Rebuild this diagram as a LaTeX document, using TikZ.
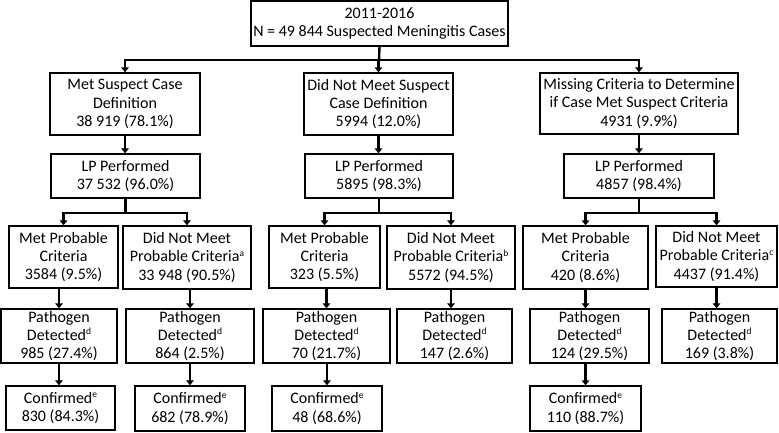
\documentclass[tikz,border=0pt]{standalone}
\usepackage{fontspec}
\setmainfont{Carlito}
\usetikzlibrary{arrows.meta}
\tikzset{
  bx/.style={draw, line width=1.3pt, align=center, inner sep=0pt,
    font=\fontsize{16}{18.3}\selectfont},
  conn/.style={line width=2.4pt, line cap=rect},
  arr/.style={line width=2.4pt, -{Triangle[width=7.5pt,length=5pt]}},
}
\newcommand\fnmk[1]{\raisebox{0.75ex}{\fontsize{9.5}{9.5}\selectfont #1}}
\newcommand\mybox[6]{%
  \node[bx, minimum width={#4pt-#2pt}, minimum height={#5pt-#3pt}]
    (#1) at ({(#2+#4)/2},{-(#3+#5)/2}) {#6};}
\begin{document}
\begin{tikzpicture}[x=1pt,y=1pt]
\useasboundingbox (0,0) rectangle (779,-432);
% level 0
\mybox{top}{251}{1}{508}{46}{2011-2016\\N = 49 844 Suspected Meningitis Cases}
% level 1
\mybox{A}{50}{73}{200}{135}{Met Suspect Case\\Definition\\38 919 (78.1\%)}
\mybox{B}{304}{73}{453}{135}{Did Not Meet Suspect\\Case Definition\\5994 (12.0\%)}
\mybox{C}{540}{73}{738}{134}{Missing Criteria to Determine\\if Case Met Suspect Criteria\\4931 (9.9\%)}
% LP
\mybox{LA}{51}{154}{200}{198}{LP Performed\\37 532 (96.0\%)}
\mybox{LB}{305}{154}{453}{198}{LP Performed\\5895 (98.3\%)}
\mybox{LC}{564}{154}{714}{198}{LP Performed\\4857 (98.4\%)}
% probable
\mybox{A1}{9}{226}{118}{288}{Met Probable\\Criteria\\3584 (9.5\%)}
\mybox{A2}{123}{226}{251}{289}{Did Not Meet\\Probable Criteria\fnmk{a}\\33 948 (90.5\%)}
\mybox{B1}{269}{226}{380}{288}{Met Probable\\Criteria\\323 (5.5\%)}
\mybox{B2}{387}{226}{515}{289}{Did Not Meet\\Probable Criteria\fnmk{b}\\5572 (94.5\%)}
\mybox{C1}{523}{226}{648}{289}{Met Probable\\Criteria\\420 (8.6\%)}
\mybox{C2}{656}{226}{777}{287}{Did Not Meet\\Probable Criteria\fnmk{c}\\4437 (91.4\%)}
% pathogen
\mybox{A1P}{1}{309}{117}{363}{Pathogen\\Detected\fnmk{d}\\985 (27.4\%)}
\mybox{A2P}{126}{309}{254}{363}{Pathogen\\Detected\fnmk{d}\\864 (2.5\%)}
\mybox{B1P}{263}{309}{390}{363}{Pathogen\\Detected\fnmk{d}\\70 (21.7\%)}
\mybox{B2P}{397}{309}{512}{363}{Pathogen\\Detected\fnmk{d}\\147 (2.6\%)}
\mybox{C1P}{530}{309}{649}{363}{Pathogen\\Detected\fnmk{d}\\124 (29.5\%)}
\mybox{C2P}{662}{309}{777}{363}{Pathogen\\Detected\fnmk{d}\\169 (3.8\%)}
% confirmed
\mybox{A1C}{6}{386}{115}{430}{Confirmed\fnmk{e}\\830 (84.3\%)}
\mybox{A2C}{135}{386}{245}{431}{Confirmed\fnmk{e}\\682 (78.9\%)}
\mybox{B1C}{272}{386}{382}{431}{Confirmed\fnmk{e}\\48 (68.6\%)}
\mybox{C1C}{530}{386}{641}{431}{Confirmed\fnmk{e}\\110 (88.7\%)}
% junctions
\coordinate (j0) at (379,-60);
\coordinate (jA) at (125,-213);
\coordinate (jB) at (379,-213);
\coordinate (jC) at (639,-213);
% top split
\draw[conn] (top.south) -- (j0);
\draw[conn] (j0 -| A.north) -- (j0 -| C.north);
\draw[arr] (j0 -| A.north) -- (A.north);
\draw[arr] (j0 -| B.north) -- (B.north);
\draw[arr] (j0 -| C.north) -- (C.north);
% to LP
\draw[arr] (A.south) -- (A.south |- LA.north);
\draw[arr] (B.south) -- (B.south |- LB.north);
\draw[arr] (C.south) -- (C.south |- LC.north);
% LP splits
\draw[conn] (LA.south) -- (LA.south |- jA);
\draw[conn] (jA -| A1.north) -- (jA -| A2.north);
\draw[arr] (jA -| A1.north) -- (A1.north);
\draw[arr] (jA -| A2.north) -- (A2.north);
\draw[conn] (LB.south) -- (LB.south |- jB);
\draw[conn] (jB -| B1.north) -- (jB -| B2.north);
\draw[arr] (jB -| B1.north) -- (B1.north);
\draw[arr] (jB -| B2.north) -- (B2.north);
\draw[conn] (LC.south) -- (LC.south |- jC);
\draw[conn] (jC -| C1.north) -- (jC -| C2.north);
\draw[arr] (jC -| C1.north) -- (C1.north);
\draw[arr] (jC -| C2.north) -- (C2.north);
% to pathogen
\draw[arr] (A1P.north |- A1.south) -- (A1P.north);
\draw[arr] (A2P.north |- A2.south) -- (A2P.north);
\draw[arr] (B1P.north |- B1.south) -- (B1P.north);
\draw[arr] (B2.south) -- (B2.south |- B2P.north);
\draw[arr] (C1.south) -- (C1.south |- C1P.north);
\draw[arr] (C2.south) -- (C2.south |- C2P.north);
% to confirmed
\draw[arr] (A1P.south) -- (A1P.south |- A1C.north);
\draw[arr] (A2C.north |- A2P.south) -- (A2C.north);
\draw[arr] (B1C.north |- B1P.south) -- (B1C.north);
\draw[arr] (C1C.north |- C1P.south) -- (C1C.north);
\end{tikzpicture}
\end{document}
